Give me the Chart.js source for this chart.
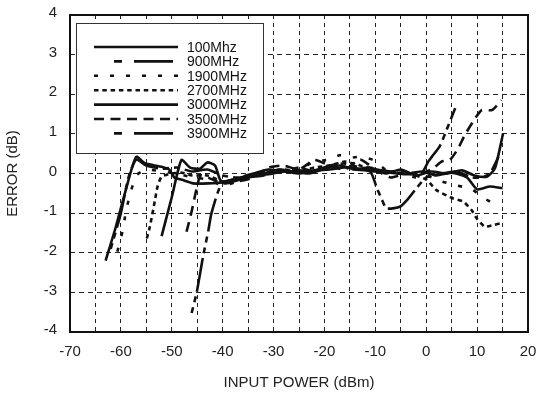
<!DOCTYPE html>
<html><head><meta charset="utf-8">
<script src="https://cdn.jsdelivr.net/npm/chart.js@4"></script>
<style>html,body{margin:0;padding:0;background:#fff}</style>
</head><body>
<canvas id="c" width="542" height="395"></canvas>
<script>
// ---- data ----
const seriesNames = ['100Mhz','900MHz','1900MHz','2700MHz','3000MHz','3500MHz','3900MHz'];
const xTickValues = [-70,-60,-50,-40,-30,-20,-10,0,10,20];
const yTickValues = [-4,-3,-2,-1,0,1,2,3,4];

const x100 = [-63,-61,-59,-57,-55.3,-53.6,-52,-50.5,-49.5,-48,-45.8,-42.8,-40,-37,-34,-31,-28,-25,-22,-19,-16,-13,-10,-7,-4,-1,2,5,8,10,12.5,15];
const y100 = [-2.2,-1.35,-0.4,0.42,0.26,0.21,0.17,0.1,-0.1,-0.16,-0.25,-0.25,-0.22,-0.12,-0.05,-0.02,0.05,0.0,0.08,0.1,0.15,0.12,0.05,0.02,-0.02,0.05,-0.05,0.02,-0.1,-0.4,-0.33,-0.37];

const x900 = [-62,-60,-58.5,-57,-55,-52,-49,-46,-43,-40,-37,-34,-31,-28,-25,-22,-19,-16,-13,-10,-7,-4,-1,0.4,1.1,2.7,4,5.7];
const y900 = [-1.9,-1.0,-0.1,0.35,0.2,0.12,0.15,0.05,0.1,-0.05,-0.1,0.0,0.1,0.05,0.15,0.05,0.2,0.25,0.15,0.1,0.05,0.05,0.0,0.3,0.42,0.7,1.1,1.65];

const x1900 = [-60.7,-59.7,-59,-58.1,-56.9,-55,-52,-49,-46,-43,-40,-37,-34,-31,-28,-25,-22,-19,-17,-15,-13,-10.4,-8,-5,-2,0,3,6,9,11,13.2];
const y1900 = [-1.97,-1.47,-0.96,-0.48,-0.04,0.1,0.05,0.0,-0.1,-0.15,-0.3,-0.2,-0.1,0.0,0.05,0.1,0.3,0.35,0.46,0.4,0.42,0.34,0.1,0.0,-0.1,-0.05,-0.2,-0.3,-0.4,-0.6,-0.75];

const x2700 = [-54.9,-54.3,-53.3,-52.8,-52,-50,-48,-46,-43,-40,-37,-34,-31,-28,-25,-22,-19,-16,-13,-10,-7,-4,-2,0.1,2,5.3,7.3,8.9,9.9,11.5,13.2,14.5];
const y2700 = [-1.64,-1.34,-0.67,-0.33,-0.08,0.0,0.02,-0.05,-0.05,-0.2,-0.15,-0.05,0.05,0.1,0.05,0.15,0.2,0.3,0.2,0.1,0.05,0.0,-0.05,-0.16,-0.42,-0.63,-0.71,-0.92,-1.13,-1.34,-1.3,-1.26];

const x3000 = [-52,-50,-48.1,-46.4,-44.5,-43,-41.5,-40.3,-38,-35,-32,-29,-26,-23,-20,-17,-14,-11,-8,-5,-2,1,4,7,9.5,11.9,13.5,15.1];
const y3000 = [-1.58,-0.6,0.34,0.15,0.12,0.28,0.2,-0.2,-0.15,-0.05,0.0,0.1,0.05,0.0,0.12,0.2,0.1,0.15,0.0,0.1,-0.05,0.05,0.0,0.08,-0.05,-0.08,0.13,1.01];

const x3500 = [-47.1,-46.1,-45.1,-44.3,-42,-40,-37,-34,-31,-28,-25,-22,-19,-16,-13,-10,-7,-4,-1,1.4,3,4.7,6.3,7.5,9.2,10.9,12.9,14.8];
const y3500 = [-1.47,-0.96,-0.37,-0.05,-0.15,-0.25,-0.2,-0.1,0.15,0.2,0.1,0.34,0.2,0.1,0.35,0.1,-0.1,0.0,0.0,0.13,0.3,0.35,0.64,0.95,1.31,1.6,1.6,1.85];

const x3900 = [-46.1,-45.1,-43.8,-42.8,-42.2,-40.2,-38,-35,-32,-29,-26,-23,-20,-17,-14,-11,-9.7,-8.8,-7.8,-5.2,-3.5,-1.9,0,3,6,9,11,12.5,14.2];
const y3900 = [-3.52,-3.0,-2.06,-1.43,-1.0,-0.25,-0.2,-0.1,-0.05,0.05,0.1,0.05,0.15,0.2,0.1,0.05,-0.37,-0.63,-0.88,-0.84,-0.63,-0.37,-0.1,0.0,0.05,-0.1,-0.1,0.0,0.42];

const xs = [x100,x900,x1900,x2700,x3000,x3500,x3900];
const ys = [y100,y900,y1900,y2700,y3000,y3500,y3900];
const dashes = [[],[6,5,6,5,34,5],[4,12],[4.5,3.8],[],[10,6.5],[6,5,6,5,34,5]];

const FONT = '"Liberation Sans", Arial, Helvetica, sans-serif';
const AREA = {left:70, top:15, right:528, bottom:332};

const datasets = seriesNames.map((n,i)=>({
  label:n,
  data: xs[i].map((x,j)=>({x:x,y:ys[i][j]})),
  borderColor:'#111',
  borderWidth:2.6,
  borderDash:dashes[i],
  pointRadius:0,
  tension:0.2,
  fill:false
}));

const decor = {
  id:'decor',
  afterDatasetsDraw(chart){
    const ctx = chart.ctx, a = chart.chartArea;
    ctx.save();
    // legend box
    const bx=76, by=23, bw=187, bh=130;
    ctx.fillStyle='#fff';
    ctx.fillRect(bx,by,bw,bh);
    ctx.strokeStyle='#333'; ctx.lineWidth=1; ctx.setLineDash([]);
    ctx.strokeRect(bx+0.5,by+0.5,bw,bh);
    ctx.font='14px '+FONT; ctx.fillStyle='#111'; ctx.textBaseline='middle'; ctx.textAlign='left';
    seriesNames.forEach((n,i)=>{
      const yy = 47 + i*14.4;
      ctx.lineWidth=2.6; ctx.strokeStyle='#111';
      ctx.setLineDash(dashes[i]);
      let x0=94, x1=178;
      if(i===1||i===6){x0=114; x1=173; ctx.setLineDash([8,12,39,5]);}
      ctx.beginPath(); ctx.moveTo(x0,yy); ctx.lineTo(x1,yy); ctx.stroke();
      ctx.setLineDash([]);
      ctx.fillText(n,187,yy+1);
    });
    // plot frame
    ctx.setLineDash([]);
    ctx.strokeStyle='#111'; ctx.lineWidth=2;
    ctx.strokeRect(a.left,a.top,a.right-a.left,a.bottom-a.top);
    // axis titles
    ctx.fillStyle='#222'; ctx.font='15px '+FONT;
    ctx.textAlign='center'; ctx.textBaseline='middle';
    ctx.fillText('INPUT POWER (dBm)',(a.left+a.right)/2,383);
    ctx.translate(13,(a.top+a.bottom)/2);
    ctx.rotate(-Math.PI/2);
    ctx.fillText('ERROR (dB)',0,0);
    ctx.restore();
  }
};

new Chart(document.getElementById('c'),{
  type:'line',
  data:{datasets},
  options:{
    responsive:false,
    animation:false,
    events:[],
    layout:{padding:{top:AREA.top,right:542-AREA.right,left:0,bottom:0}},
    plugins:{legend:{display:false},tooltip:{enabled:false}},
    scales:{
      x:{
        type:'linear',min:-70,max:20,
        afterFit(s){s.height=395-AREA.bottom; s.paddingLeft=0; s.paddingRight=0;},
        ticks:{stepSize:5,color:'#222',font:{family:FONT,size:15},padding:11,maxRotation:0,autoSkip:false,
          callback:(v)=> xTickValues.includes(v)? String(v):''},
        grid:{color:'#222',lineWidth:1,drawTicks:false},
        border:{display:false,dash:[4,4]}
      },
      y:{
        type:'linear',min:-4,max:4,
        afterFit(s){s.width=AREA.left; s.paddingTop=0; s.paddingBottom=0;},
        ticks:{stepSize:1,color:'#222',font:{family:FONT,size:15},padding:13,labelOffset:-2,
          callback:(v)=> yTickValues.includes(v)? String(v):''},
        grid:{color:'#222',lineWidth:1,drawTicks:false},
        border:{display:false,dash:[5,4]}
      }
    }
  },
  plugins:[decor]
});
</script>
</body></html>
